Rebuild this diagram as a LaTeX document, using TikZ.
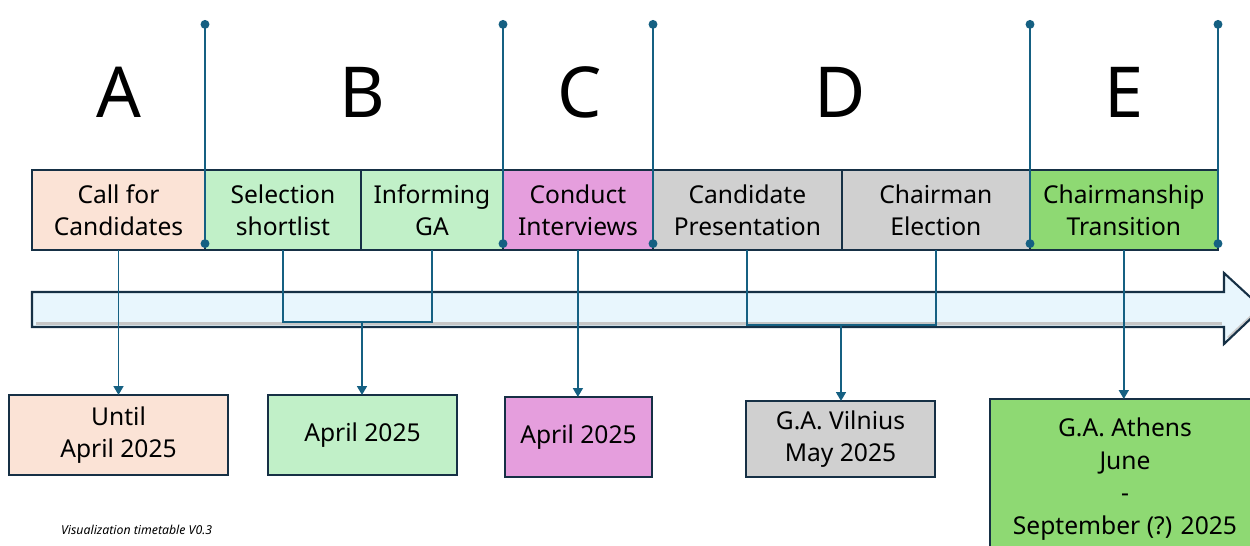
\documentclass[tikz,border=0pt]{standalone}
\usepackage{fontspec}
\setmainfont{Noto Sans}
\usetikzlibrary{arrows.meta,positioning}

\definecolor{peach}{HTML}{FBE3D6}
\definecolor{mint}{HTML}{C1F0C8}
\definecolor{orchid}{HTML}{E59EDD}
\definecolor{silver}{HTML}{D0D0D0}
\definecolor{leaf}{HTML}{8ED973}
\definecolor{linkblue}{HTML}{156082}
\definecolor{navy}{HTML}{163045}
\definecolor{skyfill}{HTML}{E8F6FD}

\begin{document}
\begin{tikzpicture}[
  x=0.02cm, y=-0.02cm,
  box/.style={draw=navy, line width=1pt, outer sep=0pt, minimum height=1.6cm,
    align=center, inner sep=2pt, font=\fontsize{14}{18}\selectfont},
  phase/.style={font=\fontsize{40}{48}\selectfont},
  divider/.style={draw=linkblue, line width=1.1pt, {Circle[length=5pt]}-{Circle[length=5pt]}},
  link/.style={draw=linkblue, line width=1.1pt},
  arr/.style={link, -{Triangle[length=5pt,width=5.5pt]}}
]
\clip (0,0) rectangle (1250,546);

% timeline arrow
\fill[skyfill] (32,292) -- (1224,292) -- (1224,273) -- (1262,308) -- (1224,344)
  -- (1224,327) -- (32,327) -- cycle;
\draw[gray!45, line width=1.6pt] (36,323.5) -- (1222,323.5);
\draw[gray!40, line width=1.6pt] (1228,338) -- (1256,312);
\draw[navy, line width=1.2pt] (32,292) -- (1224,292) -- (1224,273) -- (1262,308)
  -- (1224,344) -- (1224,327) -- (32,327) -- cycle;

% phases
\node[phase] (pA) at (119,92) {A};
\node[phase] (pB) at (362,92) {B};
\node[phase] (pC) at (580,92) {C};
\node[phase] (pD) at (840,92) {D};
\node[phase] (pE) at (1124,92) {E};

% steps
\node[box, fill=peach, minimum width=3.46cm] (call) at (118.5,210) {Call for\\Candidates};
\node[box, fill=mint, minimum width=3.12cm, right=0pt of call] (sel) {Selection\\shortlist};
\node[box, fill=mint, minimum width=2.84cm, right=0pt of sel] (inf) {Informing\\GA};
\node[box, fill=orchid, minimum width=3.0cm, right=0pt of inf] (cond) {Conduct\\Interviews};
\node[box, fill=silver, minimum width=3.78cm, right=0pt of cond] (pres) {Candidate\\Presentation};
\node[box, fill=silver, minimum width=3.76cm, right=0pt of pres] (elec) {Chairman\\Election};
\node[box, fill=leaf, minimum width=3.76cm, right=0pt of elec] (trans) {Chairmanship\\Transition};

% dates
\node[box, fill=peach, minimum width=4.38cm] (dA) at (118.5,435) {Until\\April 2025};
\node[box, fill=mint, minimum width=3.78cm] (dB) at (362.5,435) {April 2025};
\node[box, fill=orchid, minimum width=2.94cm] (dC) at (578.5,437) {April 2025};
\node[box, fill=silver, minimum width=3.78cm, minimum height=1.52cm] (dD) at (840.5,439) {G.A. Vilnius\\May 2025};
\node[box, fill=leaf, minimum width=5.4cm, minimum height=3.2cm,
  font=\fontsize{14}{18.6}\selectfont] (dE) at (1125,479)
  {G.A. Athens\\June\\-\\September (?) 2025};

% dividers
\foreach \x in {205,503,653,1030,1218}
  \draw[divider] (\x,20) -- (\x,248);

% links
\coordinate (jB) at (362,322);
\coordinate (jD) at (841,325);
\draw[arr] (call.south) -- (dA.north);
\draw[link] (sel.south) |- (jB) -| (inf.south);
\draw[arr] (jB) -- (jB |- dB.north);
\draw[arr] (cond.south) -- (cond.south |- dC.north);
\draw[link] (pres.south) |- (jD) -| (elec.south);
\draw[arr] (jD) -- (jD |- dD.north);
\draw[arr] (trans.south) -- (trans.south |- dE.north);

\node[anchor=west, font=\fontsize{7}{8}\selectfont\itshape] (note) at (55,530) {Visualization timetable V0.3};
\end{tikzpicture}
\end{document}
